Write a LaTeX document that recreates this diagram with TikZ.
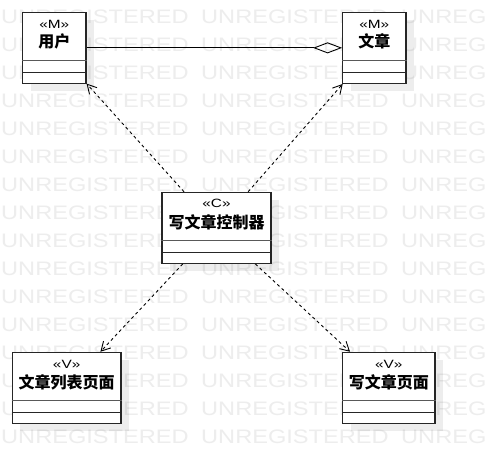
\documentclass[tikz,border=0pt]{standalone}
\usepackage{fontspec}
\setmainfont{Liberation Sans}
\newfontfamily\cjk{Noto Sans CJK SC}
\usetikzlibrary{arrows.meta,shadows}

\begin{document}
\begin{tikzpicture}[x=1pt,y=-1pt,
        classbox/.style={draw=black!85,line width=1.2pt,fill=white,minimum height=71pt,inner sep=0pt,
            drop shadow={shadow xshift=8pt,shadow yshift=-8pt,fill=black,opacity=0.07}},
        stereo/.style={font=\fontsize{12}{12}\selectfont,inner sep=0pt},
        cname/.style={font=\cjk\bfseries\fontsize{16}{18}\selectfont,inner sep=0pt},
        namesep/.style={draw=black!65,line width=1.6pt},
        partsep/.style={draw=black!85,line width=1.1pt},
        depend/.style={line width=0.9pt,dash pattern=on 3pt off 3pt,-{Straight Barb[length=9pt,width=10pt]}},
        aggreg/.style={line width=0.9pt,-{Diamond[open,length=29pt,width=11pt,line width=0.9pt]}},
        watermark/.style={anchor=north west,inner sep=0pt,text=black!7,font=\fontsize{19.5}{19.5}\selectfont}]
    \useasboundingbox[fill=white] (0,0) rectangle (485,473);
    \foreach \k in {0,...,15}
        \foreach \x in {1,201,401}
            \node[watermark] at (\x,{10+28*\k}) {\scalebox{1.21}[1]{UNREGISTERED}};
    \node[classbox,minimum width=63.3pt] (user) at (54.35,47.85) {};
    \node[classbox,minimum width=63.3pt] (article) at (374.35,47.85) {};
    \node[classbox,minimum width=109pt] (writectrl) at (216.5,227.85) {};
    \node[classbox,minimum width=108.7pt] (listpage) at (66.65,387.85) {};
    \node[classbox,minimum width=92.3pt] (writepage) at (388.85,387.85) {};
    \foreach \c in {user,article,writectrl,listpage,writepage} {
        \draw[namesep] ([yshift=23.5pt]\c.south west) -- ([yshift=23.5pt]\c.south east);
        \draw[partsep] ([yshift=11.5pt]\c.south west) -- ([yshift=11.5pt]\c.south east);
    }
    \node[stereo] at ([yshift=-13pt]user.north) {\scalebox{1.28}[1]{«M»}};
    \node[cname] at ([yshift=-30pt]user.north) {用户};
    \node[stereo] at ([yshift=-13pt]article.north) {\scalebox{1.28}[1]{«M»}};
    \node[cname] at ([yshift=-30pt]article.north) {文章};
    \node[stereo] at ([yshift=-12pt]writectrl.north) {\scalebox{1.28}[1]{«C»}};
    \node[cname] at ([yshift=-31pt]writectrl.north) {写文章控制器};
    \node[stereo] at ([yshift=-13pt]listpage.north) {\scalebox{1.28}[1]{«V»}};
    \node[cname] at ([yshift=-31pt]listpage.north) {文章列表页面};
    \node[stereo] at ([yshift=-13pt]writepage.north) {\scalebox{1.28}[1]{«V»}};
    \node[cname] at ([yshift=-31pt]writepage.north) {写文章页面};
    \draw[aggreg] (user) -- (article);
    \draw[depend] (writectrl) -- (user);
    \draw[depend] (writectrl) -- (article);
    \draw[depend] (writectrl) -- (listpage);
    \draw[depend] (writectrl) -- (writepage);
\end{tikzpicture}
\end{document}
